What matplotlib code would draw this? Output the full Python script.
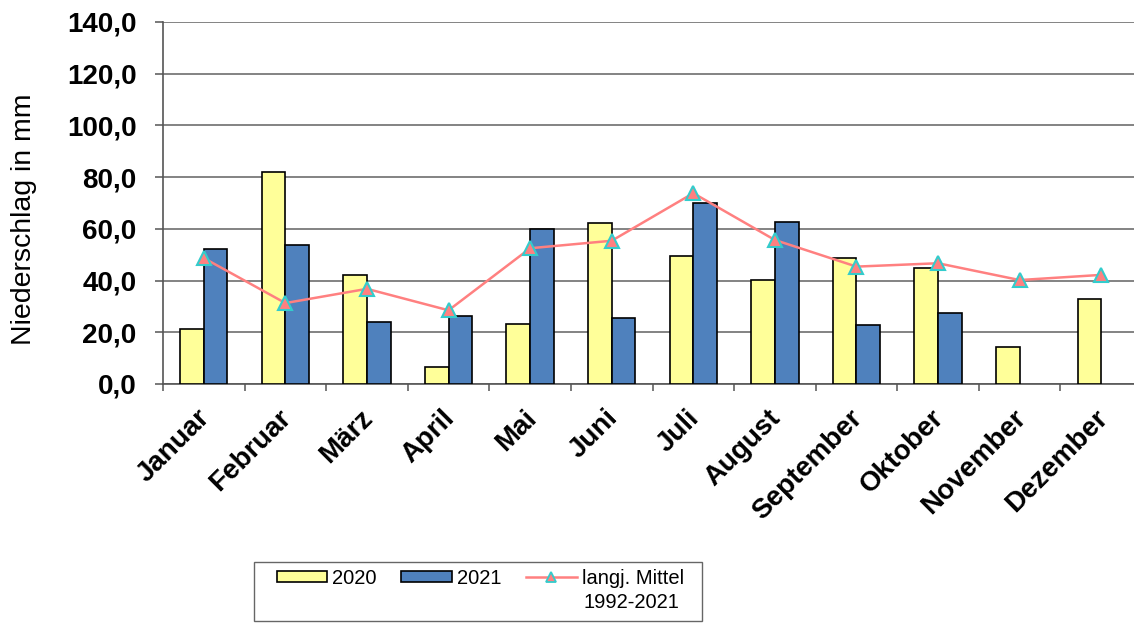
import numpy as np
import matplotlib
matplotlib.use("Agg")
import matplotlib.pyplot as plt
from matplotlib.lines import Line2D
from matplotlib.patches import Patch, Rectangle

months = ["Januar", "Februar", "März", "April", "Mai", "Juni", "Juli",
          "August", "September", "Oktober", "November", "Dezember"]
rain_2020 = [21.3, 82.0, 42.2, 6.7, 23.3, 62.4, 49.5, 40.1, 48.9, 44.7, 14.3, 32.9]
rain_2021 = [52.2, 53.6, 23.9, 26.4, 60.0, 25.4, 70.1, 62.5, 22.8, 27.6, np.nan, np.nan]
mean_1992_2021 = [48.7, 31.3, 36.8, 28.5, 52.5, 55.4, 73.8, 55.7, 45.4, 46.7, 40.2, 42.2]
y_ticks = [0, 20, 40, 60, 80, 100, 120, 140]
y_tick_labels = ["0,0", "20,0", "40,0", "60,0", "80,0", "100,0", "120,0", "140,0"]

plt.rcParams["font.family"] = ["Liberation Sans", "DejaVu Sans"]

YELLOW = "#FFFF99"
BLUE = "#4F81BD"
SALMON = "#FF8080"
TEAL = "#33CCCC"

W, H = 1134, 623
fig = plt.figure(figsize=(W / 100, H / 100), dpi=100)
ax = fig.add_axes([163 / W, 1 - 384 / H, 979 / W, 362 / H])

x = np.arange(len(months))
bw = 0.29
ax.bar(x - bw / 2, rain_2020, width=bw, color=YELLOW, edgecolor="black",
       linewidth=1.2, zorder=3)
ax.bar(x + bw / 2, rain_2021, width=bw, color=BLUE, edgecolor="black",
       linewidth=1.2, zorder=3)
ax.plot(x, mean_1992_2021, color=SALMON, linewidth=1.8, marker="^",
        markersize=10, markerfacecolor=SALMON, markeredgecolor=TEAL,
        markeredgewidth=1.5, zorder=4)

ax.set_xlim(-0.5, len(months) - 0.5)
ax.set_ylim(0, 140)
ax.set_yticks(y_ticks)
ax.set_yticklabels(y_tick_labels, fontsize=20, fontweight="bold")
ax.yaxis.grid(True, color="#7a7a7a", linewidth=1.3, zorder=0)
ax.set_axisbelow(True)

ax.set_xticks(x)
ax.set_xticklabels([])
ax.set_xticks(np.arange(-0.5, len(months)), minor=True)
ax.tick_params(axis="x", which="major", length=0)
ax.tick_params(axis="x", which="minor", length=5, width=1.1, color="#555555",
               direction="out")
ax.tick_params(axis="y", length=6, width=1.1, color="#555555", direction="out",
               pad=13)

for xi, name in zip(x, months):
    ax.annotate(name, xy=(xi, 0), xycoords=("data", "axes fraction"),
                xytext=(-5, -15), textcoords="offset points",
                rotation=45, rotation_mode="anchor", ha="right", va="top",
                fontsize=20, fontweight="bold")

for side in ("top", "right"):
    ax.spines[side].set_visible(False)
for side in ("left", "bottom"):
    ax.spines[side].set_color("#555555")
    ax.spines[side].set_linewidth(1.2)

fig.text(24 / W, 1 - 219 / H, "Niederschlag in mm", rotation=90,
         ha="center", va="center", fontsize=20.5)

# legend frame
fig.patches.append(Rectangle((254 / W, 1 - 621 / H), 448 / W, 59 / H,
                             transform=fig.transFigure, facecolor="white",
                             edgecolor="#666666", linewidth=1.0, zorder=1))

handles = [
    Patch(facecolor=YELLOW, edgecolor="black", linewidth=1.2),
    Patch(facecolor=BLUE, edgecolor="black", linewidth=1.2),
    Line2D([], [], color=SALMON, linewidth=1.8, marker="^", markersize=7.5,
           markerfacecolor=SALMON, markeredgecolor=TEAL, markeredgewidth=1.3),
]
labels = ["2020", "2021", "langj. Mittel"]
leg = fig.legend(handles, labels, loc="upper left",
                 bbox_to_anchor=(276.5 / W, 1 - 568.5 / H), ncol=3,
                 fontsize=14.5, frameon=False, handlelength=2.53,
                 handleheight=0.5, handletextpad=0.25, columnspacing=1.2,
                 borderpad=0, borderaxespad=0)
leg.set_zorder(2)

fig.canvas.draw()
r = fig.canvas.get_renderer()
last = leg.get_texts()[-1]
bb = last.get_window_extent(r)
fig.text((bb.x0 + 2) / W, bb.y0 / H - 25 / H, "1992-2021", fontsize=14.5,
         ha="left", va="bottom", zorder=3)

fig.savefig("out.png", dpi=100)
